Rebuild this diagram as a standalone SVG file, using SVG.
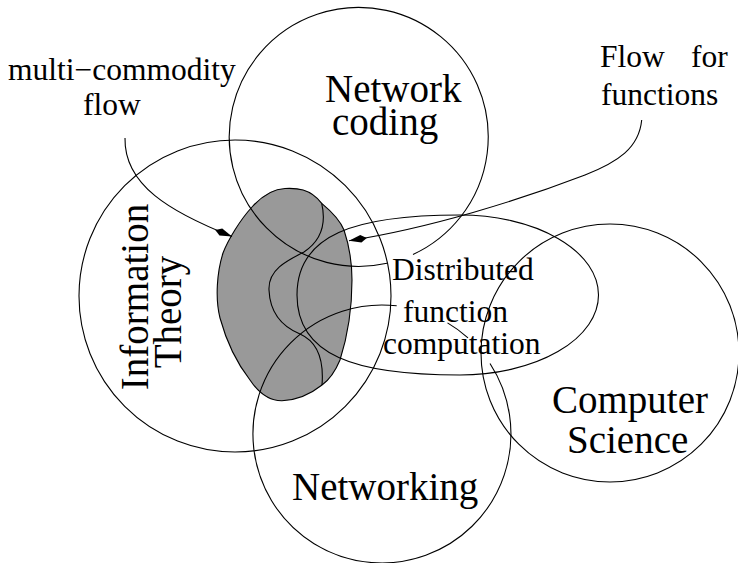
<svg xmlns="http://www.w3.org/2000/svg" width="738" height="563" viewBox="0 0 738 563">
<style>
.ln{fill:none;stroke:#000;stroke-width:1.1}
text{font-family:'Liberation Serif','DejaVu Serif',serif;fill:#000}
.big{font-size:39px}
.sm{font-size:31.5px}
</style>
<defs>
<marker id="ah" markerUnits="userSpaceOnUse" markerWidth="22" markerHeight="12" viewBox="-20 -6 22 12" refX="0" refY="0" orient="auto" overflow="visible">
<path d="M0,0 L-12,-3.8 L-18,0 L-12,3.8 Z" fill="#000"/>
</marker>
</defs>
<rect width="738" height="563" fill="#fff"/>
<g id="overlap-region">
<path d="M321.7,203.3 C331,211 340,220 344,230 C349,245 352,262 352,280 C352,310 347,338 340,360 C335,372 329,380 322,385 C312,393 298,400 282,400.8 C268,401 258,392 250,380 C236,362 226,340 220,318 C215,298 217,272 223,253 C228,240 240,220 252,207 C262,196 272,189 285,188.5 C296,188 310,188 321.7,203.3 Z" fill="#999" stroke="#000" stroke-width="1.1"/>
<path class="ln" d="M321.7,203.3 C326,222 322,240 304,252 C286,261 268,270 269,290 C270,313 283,327 300,334 C318,342 324,360 322,385"/>
</g>
<g id="information-theory">
<circle class="ln" cx="235" cy="296" r="156"/>
<text class="big" font-family="Liberation Serif, serif" text-anchor="middle" transform="translate(148,297) rotate(-90)">Information</text>
<text class="big" font-family="Liberation Serif, serif" text-anchor="middle" transform="translate(180.5,312) rotate(-90)">Theory</text>
</g>
<g id="network-coding">
<path class="ln" d="M413,254.5 A129.5,129.5 0 1 0 387,263.3"/>
<text class="big" font-family="Liberation Serif, serif" x="325" y="102">Network</text>
<text class="big" font-family="Liberation Serif, serif" x="332" y="135">coding</text>
</g>
<g id="networking">
<path class="ln" d="M490,363.5 A129,129 0 1 1 396.7,305.8"/>
<path class="ln" d="M447.5,322.9 A129,129 0 0 1 468,337.8"/>
<text class="big" font-family="Liberation Serif, serif" x="292" y="500">Networking</text>
</g>
<g id="distributed-function-computation">
<path class="ln" d="M460,215 C354,215 297,235 297,295 C297,355 354,375 460,375 A138.5,80 0 0 0 598.5,295 A138.5,80 0 0 0 460,215 Z"/>
<text class="sm" font-family="Liberation Serif, serif" x="392" y="280">Distributed</text>
<text class="sm" font-family="Liberation Serif, serif" x="403" y="322">function</text>
<text class="sm" font-family="Liberation Serif, serif" x="383" y="354">computation</text>
</g>
<g id="computer-science">
<circle class="ln" cx="610" cy="353" r="129"/>
<text class="big" font-family="Liberation Serif, serif" x="552" y="413">Computer</text>
<text class="big" font-family="Liberation Serif, serif" x="567" y="453">Science</text>
</g>
<g id="label-multi-commodity">
<text class="sm" font-family="Liberation Serif, serif" x="8" y="80">multi−commodity</text>
<text class="sm" font-family="Liberation Serif, serif" x="83" y="115">flow</text>
</g>
<g id="label-flow-for-functions">
<text class="sm" font-family="Liberation Serif, serif" y="67"><tspan x="600">Flow</tspan><tspan x="691">for</tspan></text>
<text class="sm" font-family="Liberation Serif, serif" x="601" y="105">functions</text>
</g>
<g id="connectors">
<path class="ln" marker-end="url(#ah)" d="M125,138 C124,185 170,212 232,236.5"/>
<path class="ln" marker-end="url(#ah)" d="M641.7,120 C639,148 618,162 585,175 C520,200 430,228 349,240.7"/>
</g>
</svg>
